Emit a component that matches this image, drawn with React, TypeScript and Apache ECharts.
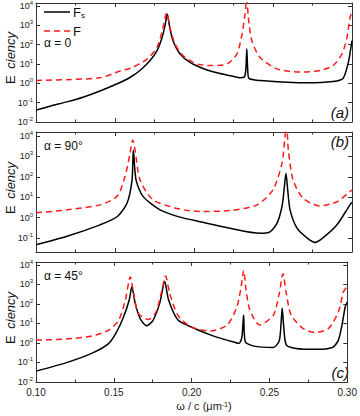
import React, { useEffect, useRef } from 'react';
import * as echarts from 'echarts';

// x: ω/c (μm^-1), y: efficiency
const fsA: [number, number][] = [
  [0.1, 0.041], [0.1089, 0.066], [0.1196, 0.11], [0.1297, 0.19], [0.1405, 0.4], [0.1532, 1.1],
  [0.1595, 2.0], [0.1658, 4.6], [0.1722, 15], [0.1766, 49], [0.1797, 220], [0.1816, 930],
  [0.1831, 3700], [0.1848, 660], [0.1867, 160], [0.1911, 34], [0.1975, 12], [0.2057, 5.9],
  [0.2165, 3.2], [0.2247, 2.3], [0.2291, 1.95], [0.2318, 2.1], [0.2328, 5], [0.2334, 62],
  [0.234, 5], [0.2348, 1.8], [0.2418, 1.4], [0.2589, 1.15], [0.2715, 1.07], [0.288, 1.26],
  [0.2943, 1.8], [0.2975, 10.5], [0.2987, 34], [0.3, 160],
];
const fA: [number, number][] = [
  [0.1, 1.4], [0.1196, 1.55], [0.1405, 1.95], [0.1532, 4.3], [0.1614, 6.8], [0.1703, 18],
  [0.1766, 72], [0.1804, 760], [0.1827, 4500], [0.1848, 760], [0.188, 110], [0.193, 27],
  [0.2019, 10], [0.212, 8.3], [0.2209, 10], [0.2272, 34], [0.2304, 350], [0.2323, 3700],
  [0.2334, 25000], [0.2344, 2500], [0.2366, 160], [0.2418, 22], [0.2525, 5.6], [0.2671, 3.8],
  [0.2797, 4.6], [0.288, 8.3], [0.2937, 34], [0.2968, 230], [0.2987, 2500], [0.3, 5000],
];
const fsB: [number, number][] = [
  [0.1, 0.046], [0.1196, 0.12], [0.1405, 0.44], [0.1513, 1.1], [0.1576, 5.0], [0.1608, 71],
  [0.1616, 2100], [0.1633, 71], [0.1677, 11], [0.1785, 2.4], [0.1911, 1.05], [0.2038, 0.63],
  [0.2228, 0.3], [0.2418, 0.17], [0.2481, 0.2], [0.2525, 0.52], [0.2557, 3.5], [0.257, 23],
  [0.2582, 150], [0.2593, 23], [0.2608, 2.4], [0.2652, 0.3], [0.2715, 0.1], [0.2766, 0.06],
  [0.2816, 0.1], [0.2905, 0.44], [0.2987, 4.2], [0.3, 5.6],
];
const fB: [number, number][] = [
  [0.1, 1.7], [0.1196, 2.4], [0.1405, 4.2], [0.1513, 11], [0.1563, 100], [0.1595, 1400],
  [0.1612, 6500], [0.1627, 2100], [0.1658, 71], [0.1741, 7.4], [0.1911, 2.6], [0.2038, 2.0],
  [0.2228, 2.2], [0.2399, 4.2], [0.25, 23], [0.2557, 470], [0.2576, 9300], [0.2587, 32000],
  [0.2597, 2100], [0.2627, 71], [0.269, 8.9], [0.2797, 3.7], [0.2905, 6.0], [0.2987, 19], [0.3, 22],
];
const fsC: [number, number][] = [
  [0.1, 0.036], [0.1196, 0.098], [0.1361, 0.3], [0.1468, 0.95], [0.1519, 3.8], [0.1563, 22],
  [0.1599, 160], [0.1616, 760], [0.1637, 110], [0.1669, 18], [0.1711, 7.6], [0.1753, 15],
  [0.1795, 110], [0.1827, 1400], [0.1852, 160], [0.1911, 15.5], [0.1994, 6.8], [0.212, 2.6],
  [0.2247, 1.26], [0.2304, 0.95], [0.2323, 2.0], [0.2334, 27], [0.2344, 1.2], [0.2399, 0.69],
  [0.2525, 0.59], [0.2563, 1.3], [0.2576, 15], [0.2582, 60], [0.2591, 8], [0.2608, 0.8],
  [0.2671, 0.52], [0.2797, 0.47], [0.2905, 0.59], [0.2943, 1.4], [0.2968, 10], [0.2987, 72], [0.3, 125],
];
const fC: [number, number][] = [
  [0.1, 1.4], [0.1196, 1.6], [0.1361, 2.3], [0.1468, 4.6], [0.1532, 15], [0.1574, 160],
  [0.1606, 2500], [0.1627, 350], [0.1658, 33], [0.1722, 16], [0.1772, 40], [0.1804, 350],
  [0.1833, 2700], [0.1859, 350], [0.1911, 27], [0.1994, 6.8], [0.212, 4.1], [0.2228, 8.3],
  [0.2291, 72], [0.2318, 760], [0.2334, 5200], [0.235, 510], [0.2374, 49], [0.2437, 8.3],
  [0.2525, 27], [0.2563, 350], [0.2587, 3500], [0.2608, 350], [0.2639, 27], [0.2715, 5.6],
  [0.2797, 3.4], [0.288, 5.6], [0.2943, 39], [0.2975, 410], [0.3, 800],
];

const xTicks = { min: 0.1, max: 0.3, interval: 0.05 };
const yRanges: [number, number][] = [[0.01, 14125], [0.0204, 15849], [0.01, 14125]];
const angleLabels = ['α = 0', 'α = 90°', 'α = 45°'];
const panelLabels = ['(a)', '(b)', '(c)'];

const FONT = 'Arial, "Liberation Sans", sans-serif';
const FRAME = '#333';
const RED = '#ff1a1a';

export default function App() {
  const ref = useRef<HTMLDivElement>(null);
  useEffect(() => {
    const chart = echarts.init(ref.current!, null, { renderer: 'svg' });
    const tops = [2, 132, 262];
    const H = 120;
    const grids = tops.map((t) => ({ left: 36, top: t, width: 316, height: H }));
    const xAxis: any[] = [];
    const yAxis: any[] = [];
    tops.forEach((_, i) => {
      const common = {
        type: 'value', gridIndex: i, min: xTicks.min, max: xTicks.max, interval: xTicks.interval,
        axisLine: { show: true, lineStyle: { color: FRAME, width: 1 } },
        axisTick: { show: true, inside: true, length: 4, lineStyle: { color: FRAME } },
        minorTick: { show: true, splitNumber: 2, length: 2.5, lineStyle: { color: FRAME } },
        splitLine: { show: false },
      };
      xAxis.push({
        ...common, position: 'bottom',
        axisLabel: {
          show: i === 2, fontSize: 10, color: '#222', fontFamily: FONT, margin: 5,
          formatter: (v: number) => v.toFixed(2),
        },
      });
      xAxis.push({ ...common, position: 'top', axisLabel: { show: false } });
      const ycommon = {
        type: 'log', gridIndex: i, min: yRanges[i][0], max: yRanges[i][1], logBase: 10,
        axisLine: { show: true, lineStyle: { color: FRAME, width: 1 } },
        axisTick: { show: true, inside: true, length: 4, lineStyle: { color: FRAME } },
        splitLine: { show: false },
      };
      yAxis.push({
        ...ycommon, position: 'left',
        axisLabel: {
          margin: 3, color: '#222', fontFamily: FONT,
          formatter: (v: number) => {
            const e = Math.log10(v);
            const r = Math.round(e);
            if (Math.abs(e - r) > 0.01) return '';
            return `{b|10}{s|${r}}`;
          },
          rich: {
            b: { fontSize: 9, lineHeight: 12, color: '#222', fontFamily: FONT },
            s: { fontSize: 6, lineHeight: 6, verticalAlign: 'top', color: '#222', fontFamily: FONT },
          },
        },
      });
      yAxis.push({ ...ycommon, position: 'right', axisLabel: { show: false } });
    });

    const mk = (name: string, data: [number, number][], gi: number, color: string, dashed: boolean) => ({
      type: 'line', name, data, xAxisIndex: gi * 2, yAxisIndex: gi * 2,
      symbol: 'none', showSymbol: false, clip: true, smooth: 0.25,
      lineStyle: { color, width: 1.5, type: dashed ? [6, 4] : 'solid' },
      itemStyle: { color },
    });
    const series = [
      mk('Fs', fsA, 0, '#000', false), mk('F', fA, 0, RED, true),
      mk('Fs', fsB, 1, '#000', false), mk('F', fB, 1, RED, true),
      mk('Fs', fsC, 2, '#000', false), mk('F', fC, 2, RED, true),
    ];

    const graphic: any[] = [];
    tops.forEach((t, i) => {
      graphic.push({
        type: 'text', x: 10, y: t + 56, rotation: Math.PI / 2,
        style: {
          text: '{e|E}  {i|ciency}', align: 'center', verticalAlign: 'middle', fill: '#111',
          rich: {
            e: { fontSize: 13, fontFamily: FONT, fill: '#111' },
            i: { fontSize: 13, fontFamily: FONT, fontStyle: 'italic', fill: '#111' },
          },
        },
      });
      graphic.push({
        type: 'text', x: 44, y: i === 0 ? 43 : t + 14,
        style: { text: angleLabels[i], fontSize: 12, fontFamily: FONT, fill: '#111', verticalAlign: 'middle' },
      });
      graphic.push({
        type: 'text', x: 349, y: i === 1 ? t + 9 : t + 110,
        style: { text: panelLabels[i], fontSize: 15, fontFamily: FONT, fontStyle: 'italic', fill: '#111', align: 'right', verticalAlign: 'middle' },
      });
    });
    // legend (drawn manually)
    graphic.push({ type: 'line', shape: { x1: 44, y1: 12, x2: 70, y2: 12 }, style: { stroke: '#000', lineWidth: 1.5 } });
    graphic.push({ type: 'line', shape: { x1: 44, y1: 31, x2: 70, y2: 31 }, style: { stroke: RED, lineWidth: 1.5, lineDash: [6, 4] } });
    graphic.push({
      type: 'text', x: 73, y: 12,
      style: {
        text: '{m|F}{sub|s}', verticalAlign: 'middle', fill: '#111',
        rich: {
          m: { fontSize: 13, fontFamily: FONT, fill: '#111', lineHeight: 14 },
          sub: { fontSize: 8, fontFamily: FONT, fill: '#111', verticalAlign: 'bottom', lineHeight: 8 },
        },
      },
    });
    graphic.push({ type: 'text', x: 73, y: 31, style: { text: 'F', fontSize: 13, fontFamily: FONT, fill: '#111', verticalAlign: 'middle' } });
    graphic.push({
      type: 'text', x: 204, y: 406,
      style: {
        text: 'ω / c (μm{s|-1})', align: 'center', verticalAlign: 'middle', fontSize: 11, fontFamily: FONT, fill: '#222',
        rich: { s: { fontSize: 7, verticalAlign: 'top', fontFamily: FONT, fill: '#222' } },
      },
    });

    chart.setOption({
      animation: false,
      grid: grids,
      xAxis,
      yAxis,
      series,
      graphic,
    });
    return () => chart.dispose();
  }, []);
  return <div ref={ref} style={{ position: 'absolute', left: 0, top: 0, width: 360, height: 416 }} />;
}
